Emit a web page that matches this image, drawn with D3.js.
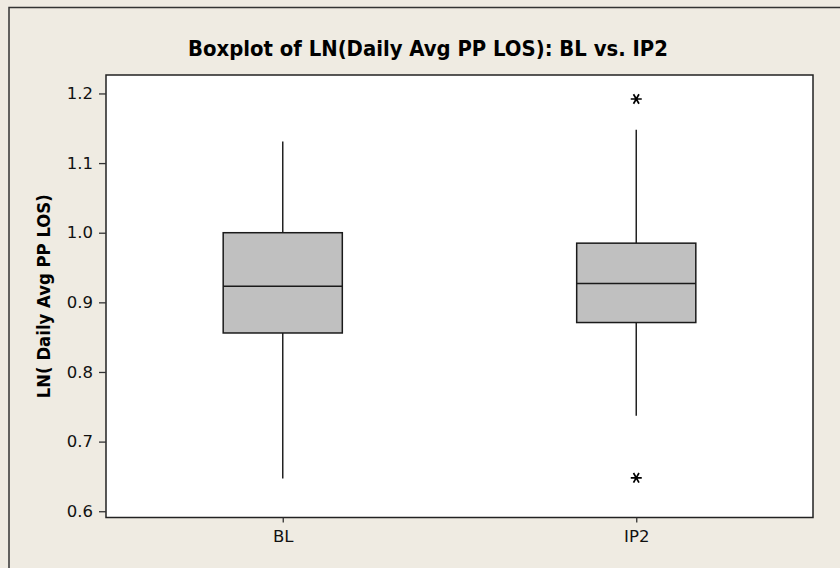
<!DOCTYPE html>
<html>
<head>
<meta charset="utf-8">
<script src="https://cdn.jsdelivr.net/npm/d3@7"></script>
<style>
  html, body { margin: 0; padding: 0; background: #efebe2; }
  svg { display: block; }
</style>
</head>
<body>
<svg id="chart" width="840" height="568"></svg>
<script>
// ---- data ----
const categories   = ["BL", "IP2"];
const whiskerLow   = [0.647, 0.737];
const q1           = [0.856, 0.871];
const median       = [0.923, 0.927];
const q3           = [1.000, 0.985];
const whiskerHigh  = [1.131, 1.148];
const outliers     = [[], [1.192, 0.648]];
const yTicks       = [0.6, 0.7, 0.8, 0.9, 1.0, 1.1, 1.2];
const yDomain      = [0.591, 1.2265];
const titleText    = "Boxplot of LN(Daily Avg PP LOS): BL vs. IP2";
const yLabelText   = "LN( Daily Avg PP LOS)";

// ---- layout ----
const W = 840, H = 568;
const plot = { left: 106, top: 75, right: 813, bottom: 517.5 };
const svg = d3.select("#chart");

// background + outer frame (only top & left visible)
svg.append("rect").attr("x", 0).attr("y", 0).attr("width", W).attr("height", H).attr("fill", "#efebe2");
svg.append("path")
  .attr("d", `M9,${H} L9,7.5 L${W},7.5`)
  .attr("fill", "none").attr("stroke", "#333").attr("stroke-width", 1.5);

// scales
const x = d3.scalePoint().domain(categories).range([plot.left, plot.right]).padding(0.5);
const y = d3.scaleLinear().domain(yDomain).range([plot.bottom, plot.top]);
const boxW = x.step() * 0.337;

// plot area
svg.append("rect")
  .attr("x", plot.left).attr("y", plot.top)
  .attr("width", plot.right - plot.left).attr("height", plot.bottom - plot.top)
  .attr("fill", "#ffffff").attr("stroke", "#222").attr("stroke-width", 1.5);

const tickFont = "'DejaVu Sans', Verdana, sans-serif";

// y axis
const yAxis = d3.axisLeft(y).tickValues(yTicks).tickFormat(d3.format(".1f")).tickSize(7).tickPadding(6);
const gy = svg.append("g").attr("transform", `translate(${plot.left},0)`).call(yAxis);
gy.select(".domain").remove();
gy.selectAll(".tick line").attr("stroke", "#333").attr("stroke-width", 1.3);
gy.selectAll(".tick text")
  .attr("fill", "#111")
  .style("font-family", tickFont)
  .style("font-size", "16.5px");

// x axis
const xAxis = d3.axisBottom(x).tickSize(5).tickPadding(8);
const gx = svg.append("g").attr("transform", `translate(0,${plot.bottom})`).call(xAxis);
gx.select(".domain").remove();
gx.selectAll(".tick line").attr("stroke", "#333").attr("stroke-width", 1.3);
gx.selectAll(".tick text")
  .attr("fill", "#111")
  .style("font-family", tickFont)
  .style("font-size", "16.5px");

// boxes
const data = categories.map((c, i) => ({
  c, lo: whiskerLow[i], q1: q1[i], med: median[i], q3: q3[i], hi: whiskerHigh[i], out: outliers[i]
}));

const g = svg.append("g");
data.forEach(d => {
  const cx = x(d.c);
  // whiskers
  g.append("line").attr("x1", cx).attr("x2", cx).attr("y1", y(d.q3)).attr("y2", y(d.hi))
    .attr("stroke", "#222").attr("stroke-width", 1.5);
  g.append("line").attr("x1", cx).attr("x2", cx).attr("y1", y(d.q1)).attr("y2", y(d.lo))
    .attr("stroke", "#222").attr("stroke-width", 1.5);
  // box
  g.append("rect")
    .attr("x", cx - boxW / 2).attr("y", y(d.q3))
    .attr("width", boxW).attr("height", y(d.q1) - y(d.q3))
    .attr("fill", "#c0c0c0").attr("stroke", "#1a1a1a").attr("stroke-width", 1.5);
  // median
  g.append("line").attr("x1", cx - boxW / 2).attr("x2", cx + boxW / 2)
    .attr("y1", y(d.med)).attr("y2", y(d.med))
    .attr("stroke", "#1a1a1a").attr("stroke-width", 1.5);
  // outliers (asterisk)
  d.out.forEach(v => {
    const oy = y(v), r = 5.5;
    let p = "";
    [0, 60, 120].forEach(a => {
      const rad = a * Math.PI / 180;
      const dx = r * Math.cos(rad), dy = r * Math.sin(rad);
      p += `M${cx - dx},${oy - dy}L${cx + dx},${oy + dy}`;
    });
    g.append("path").attr("d", p).attr("stroke", "#000").attr("stroke-width", 1.7).attr("fill", "none");
  });
});

// title
const title = svg.append("text")
  .attr("x", 428).attr("y", 56)
  .attr("text-anchor", "middle")
  .attr("fill", "#000")
  .style("font-family", "'DejaVu Sans Condensed', 'DejaVu Sans', sans-serif")
  .style("font-weight", "bold")
  .style("font-size", "18px")
  .text(titleText);
// fit title to reference width
const tw = title.node().getComputedTextLength();
title.style("font-size", (18 * 480 / tw).toFixed(2) + "px");

// y label
const yl = svg.append("text")
  .attr("transform", `translate(50,${(plot.top + plot.bottom) / 2}) rotate(-90)`)
  .attr("text-anchor", "middle")
  .attr("fill", "#000")
  .style("font-family", "'DejaVu Sans Condensed', 'DejaVu Sans', sans-serif")
  .style("font-weight", "bold")
  .style("font-size", "14px")
  .text(yLabelText);
const yw = yl.node().getComputedTextLength();
yl.style("font-size", (14 * 204 / yw).toFixed(2) + "px");
</script>
</body>
</html>
